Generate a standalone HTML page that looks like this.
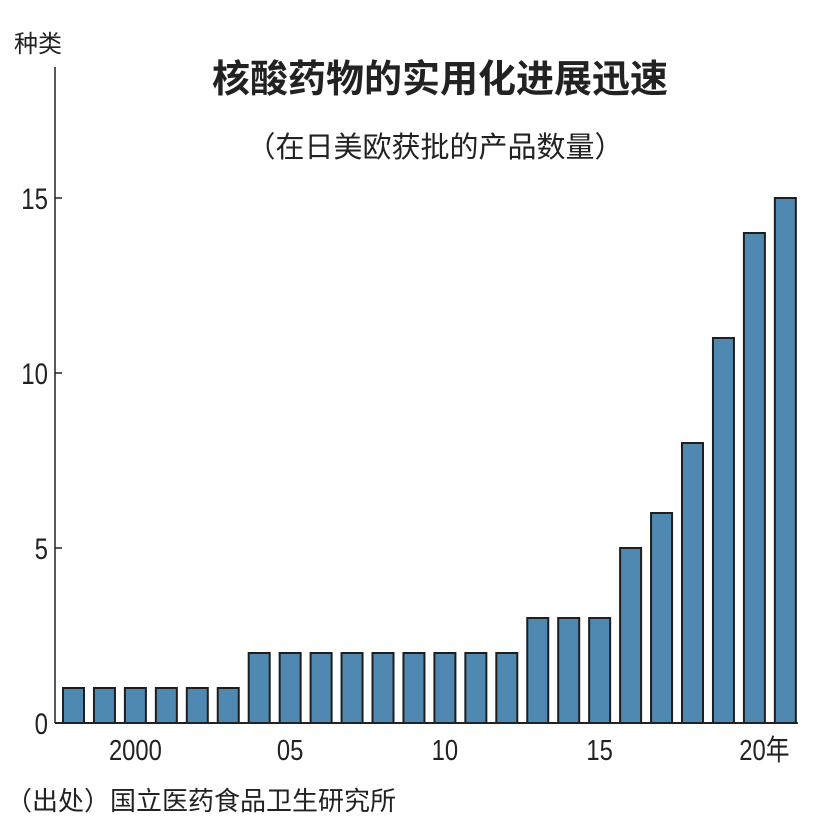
<!DOCTYPE html>
<html><head><meta charset="utf-8"><style>
body{margin:0;background:#fff;}
svg text{font-family:"Liberation Sans","Noto Sans CJK SC",sans-serif;fill:#222;}
</style></head><body>
<svg id="chart" width="828" height="828" viewBox="0 0 828 828">
<text x="14" y="52" font-size="24">种类</text>
<text x="440" y="92" font-size="38" font-weight="bold" text-anchor="middle" style="font-family:'Noto Sans CJK SC',sans-serif">核酸药物的实用化进展迅速</text>
<text x="435" y="157" font-size="29" text-anchor="middle">（在日美欧获批的产品数量）</text>
<text x="6" y="810" font-size="26">（出处）国立医药食品卫生研究所</text>
<g id="bars"></g>
<g id="axes"></g>
</svg>
<script>
const years=[1998,1999,2000,2001,2002,2003,2004,2005,2006,2007,2008,2009,2010,2011,2012,2013,2014,2015,2016,2017,2018,2019,2020,2021];
const counts=[1,1,1,1,1,1,2,2,2,2,2,2,2,2,2,3,3,3,5,6,8,11,14,15];
const yTicks=[0,5,10,15];
const xTickYears=[2000,2005,2010,2015,2020];
const xTickLabels=["2000","05","10","15","20年"];
const NS="http://www.w3.org/2000/svg";
const x0=63,step=30.95,bw=21,yBase=723,yUnit=(723-198)/15;
const xPos=i=>x0+i*step;
const yPos=v=>yBase-v*yUnit;
const bars=document.getElementById('bars'),axes=document.getElementById('axes');
function mk(tag,attrs,parent){const e=document.createElementNS(NS,tag);for(const k in attrs)e.setAttribute(k,attrs[k]);parent.appendChild(e);return e;}
counts.forEach((v,i)=>{
  const r=mk('rect',{x:xPos(i),y:yPos(v),width:bw,height:yBase-yPos(v),fill:'#4f88b0',stroke:'#1e1e1e','stroke-width':2},bars);
  
  
});
const ya=mk('line',{x1:55,y1:67,x2:55,y2:yBase,stroke:'#222','stroke-width':1.5},axes);


const xa=mk('line',{x1:55,y1:yBase,x2:xPos(counts.length-1)+bw+2,y2:yBase,stroke:'#222','stroke-width':2},axes);


yTicks.forEach(t=>{
  if(t>0){const tk=mk('line',{x1:55,y1:yPos(t),x2:62,y2:yPos(t),stroke:'#222','stroke-width':1.5},axes);
  
  }
  const tx=mk('text',{x:48,y:yPos(t)+11,'font-size':30,'text-anchor':'end',transform:'',style:'font-stretch:condensed'},axes);
  tx.textContent=String(t);
  tx.setAttribute('transform','translate(48,0) scale(0.8,1) translate(-48,0)');
  
  
});
xTickYears.forEach((yr,j)=>{
  const i=years.indexOf(yr);
  const cx=xPos(i)+bw/2+(j===4?10:0);
  const tx=mk('text',{x:cx,y:760,'font-size':29,'text-anchor':'middle'},axes);
  tx.textContent=xTickLabels[j];
  tx.setAttribute('transform','translate('+cx+',0) scale(0.82,1) translate('+(-cx)+',0)');
  
  
});
</script>
</body></html>
